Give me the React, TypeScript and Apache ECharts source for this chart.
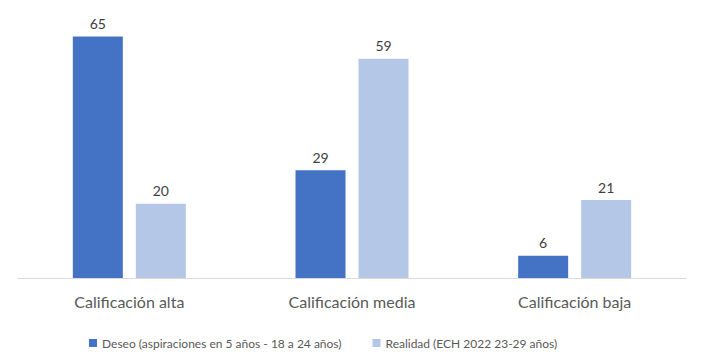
import React, { useEffect, useRef } from "react";
import * as echarts from "echarts";

const categories = ["Calificación alta", "Calificación media", "Calificación baja"];
const seriesNames = [
  "Deseo (aspiraciones en 5 años - 18 a 24 años)",
  "Realidad (ECH 2022 23-29 años)",
];
const deseo = [65, 29, 6];
const realidad = [20, 59, 21];

const FONT = "Lato, 'Liberation Sans', sans-serif";

export default function App() {
  const ref = useRef<HTMLDivElement>(null);
  useEffect(() => {
    if (!ref.current) return;
    const chart = echarts.init(ref.current, null, { renderer: "svg" });
    const labelStyle = {
      show: true,
      position: "top" as const,
      distance: 6,
      color: "#404040",
      fontSize: 14,
      fontFamily: FONT,
    };
    chart.setOption({
      animation: false,
      backgroundColor: "#ffffff",
      grid: { left: 18, right: 19, top: 18, bottom: 84, containLabel: false },
      legend: {
        left: 84,
        top: 332,
        icon: "rect",
        itemWidth: 8,
        itemHeight: 8,
        itemGap: 31,
        textStyle: { color: "#595959", fontSize: 12, fontFamily: FONT },
        data: seriesNames,
      },
      xAxis: {
        type: "category",
        data: categories,
        axisLine: { show: true, lineStyle: { color: "#d9d9d9", width: 1 } },
        axisTick: { show: false },
        axisLabel: { color: "#595959", fontSize: 16, fontFamily: FONT, margin: 15 },
      },
      yAxis: {
        type: "value",
        min: 0,
        max: 70,
        interval: 10,
        show: false,
        splitLine: { show: false },
      },
      series: [
        {
          name: seriesNames[0],
          type: "bar",
          data: deseo,
          barWidth: 50,
          barGap: "26%",
          itemStyle: { color: "#4472C4" },
          label: labelStyle,
        },
        {
          name: seriesNames[1],
          type: "bar",
          data: realidad,
          barWidth: 50,
          itemStyle: { color: "#B4C7E7" },
          label: labelStyle,
        },
      ],
    });
    return () => chart.dispose();
  }, []);
  return (
    <div
      ref={ref}
      style={{ position: "fixed", left: 0, top: 0, width: 705, height: 362 }}
    />
  );
}
